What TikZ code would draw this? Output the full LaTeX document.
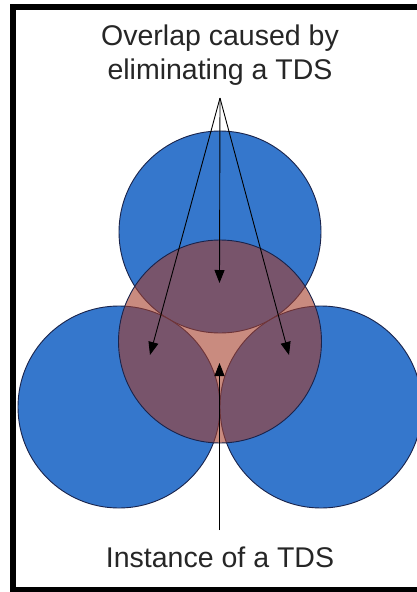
\documentclass[tikz,border=0pt]{standalone}
\usepackage{fontspec}
\setmainfont{Liberation Sans}
\usetikzlibrary{arrows.meta}
\definecolor{tdsblue}{RGB}{53,119,204}
\definecolor{tdsedge}{RGB}{25,35,75}
\definecolor{tdspink}{RGB}{165,62,43}
\begin{document}
\begin{tikzpicture}[x=1pt,y=-1pt,
  bluedisc/.style={fill=tdsblue,draw=tdsedge,line width=0.9pt},
  pinkdisc/.style={fill=tdspink,fill opacity=0.6,draw=tdsedge,draw opacity=1,line width=0.9pt},
  lbl/.style={font=\fontsize{28.5}{34}\selectfont,inner sep=0pt,anchor=base,text=black!85},
  arr/.style={line width=0.9pt,-{Triangle[length=13pt,width=10pt]}}]
\useasboundingbox (0,0) rectangle (417,592);
\fill[white] (0,0) rectangle (417,592);
\draw[line width=6pt] (13,7) rectangle (430,590);
% blue discs
\path[bluedisc] (220,232) circle[radius=101];
\path[bluedisc] (119,407) circle[radius=101];
\path[bluedisc] (321,407) circle[radius=101];
% translucent disc
\path[pinkdisc] (220,341.5) circle[radius=101.5];
% labels
\node[lbl] (t1) at (220,45) {Overlap caused by};
\node[lbl] (t2) at (220,79) {eliminating a TDS};
\node[lbl] (b1) at (220,567) {Instance of a TDS};
% arrow points
\coordinate (apex) at (220,98);
\coordinate (tipC) at (219.5,283);
\coordinate (tipL) at (150,355);
\coordinate (tipR) at (289,355);
\coordinate (tail) at (219.5,530);
\coordinate (tipB) at (219.5,363);
\draw[arr] (apex) -- (tipC);
\draw[arr] (apex) -- (tipL);
\draw[arr] (apex) -- (tipR);
\draw[arr] (tail) -- (tipB);
\end{tikzpicture}
\end{document}
